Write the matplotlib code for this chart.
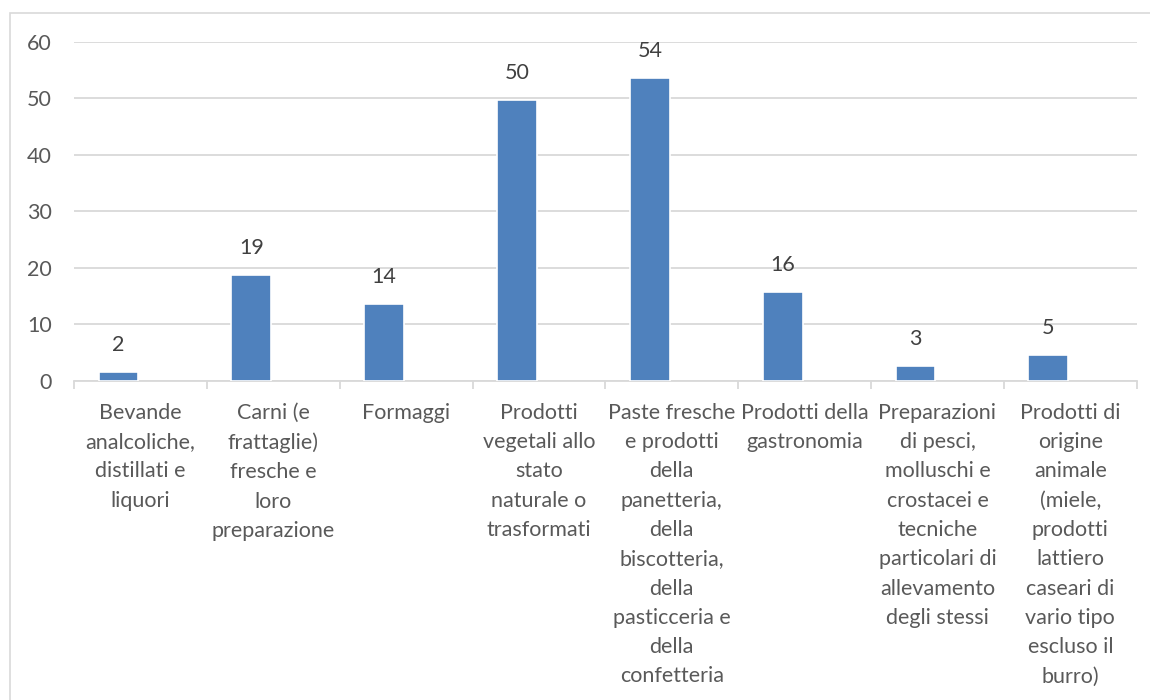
import matplotlib
matplotlib.use("Agg")
import matplotlib.pyplot as plt
import numpy as np

categories = [
    "Bevande\nanalcoliche,\ndistillati e\nliquori",
    "Carni (e\nfrattaglie)\nfresche e\nloro\npreparazione",
    "Formaggi",
    "Prodotti\nvegetali allo\nstato\nnaturale o\ntrasformati",
    "Paste fresche\ne prodotti\ndella\npanetteria,\ndella\nbiscotteria,\ndella\npasticceria e\ndella\nconfetteria",
    "Prodotti della\ngastronomia",
    "Preparazioni\ndi pesci,\nmolluschi e\ncrostacei e\ntecniche\nparticolari di\nallevamento\ndegli stessi",
    "Prodotti di\norigine\nanimale\n(miele,\nprodotti\nlattiero\ncaseari di\nvario tipo\nescluso il\nburro)",
]
values = [1.6, 18.7, 13.6, 49.7, 53.7, 15.7, 2.6, 4.6]
y_ticks = [0, 10, 20, 30, 40, 50, 60]

plt.rcParams['font.family'] = ['Lato', 'DejaVu Sans']

fig = plt.figure(figsize=(11.5, 7), dpi=100)
ax = fig.add_axes([74 / 1150, 1 - 380.7 / 700, (1136.7 - 74) / 1150, (380.7 - 42) / 700])

# outer chart frame (only top and left edges fall inside the image)
fig.patches.append(plt.Rectangle((10 / 1150, -0.2), 1.2, 1.2 - 12.7 / 700,
                                 transform=fig.transFigure, fill=False,
                                 edgecolor='#d9d9d9', linewidth=1.2))

x = np.arange(len(categories))
bars = ax.bar(x - 0.165, values, width=0.30, color='#4f81bd',
              edgecolor='white', linewidth=1.2, zorder=3)

for b, v in zip(bars, values):
    ax.annotate(f"{v:.0f}", (b.get_x() + b.get_width() / 2, v),
                xytext=(0, 12), textcoords='offset points',
                ha='center', va='bottom', fontsize=15.5, color='#404040')

ax.set_xlim(-0.5, len(categories) - 0.5)
ax.set_ylim(0, 60)
ax.set_yticks(y_ticks)
ax.yaxis.grid(True, color='#d9d9d9', linewidth=1.3, zorder=0)
ax.set_axisbelow(True)

ax.set_xticks(np.arange(len(categories) + 1) - 0.5)
ax.set_xticklabels([])
ax.set_xticks(x, minor=True)
ax.set_xticklabels(categories, minor=True, fontsize=15.5, color='#595959',
                   linespacing=1.58, va='top')
ax.tick_params(axis='x', which='major', length=6, color='#d9d9d9', width=1.3)
ax.tick_params(axis='x', which='minor', length=0, pad=16)
ax.tick_params(axis='y', length=0, pad=16, labelsize=15.5, labelcolor='#595959')

for s in ['top', 'right', 'left']:
    ax.spines[s].set_visible(False)
ax.spines['bottom'].set_color('#d9d9d9')
ax.spines['bottom'].set_linewidth(1.3)

fig.savefig("out.png", dpi=100)
